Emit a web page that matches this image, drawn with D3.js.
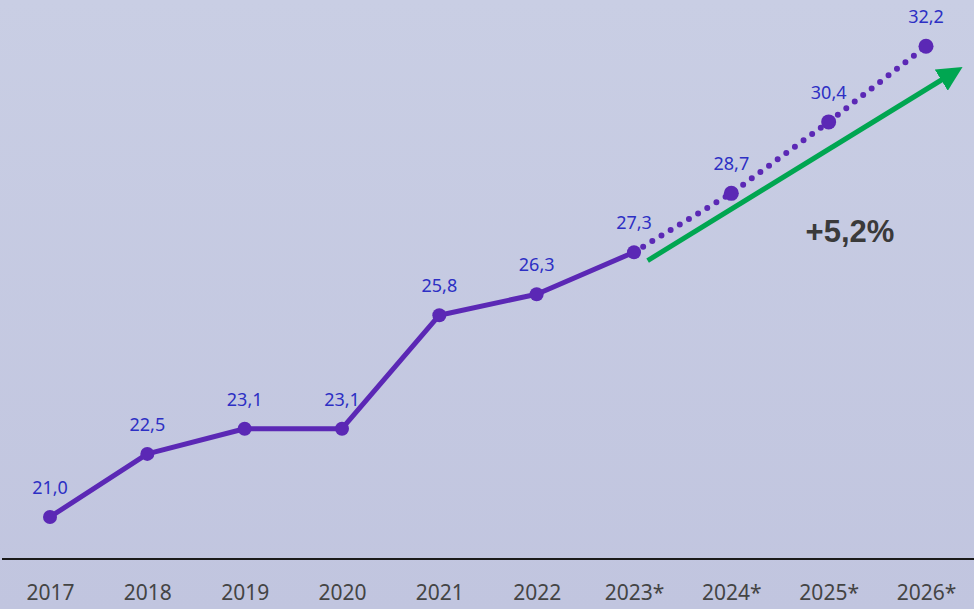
<!DOCTYPE html>
<html>
<head>
<meta charset="utf-8">
<script src="https://cdn.jsdelivr.net/npm/d3@7"></script>
<style>
  body { margin: 0; padding: 0; overflow: hidden; }
  svg { display: block; }
</style>
</head>
<body>
<div id="chart"></div>
<script>
// Chart data
var years = ["2017", "2018", "2019", "2020", "2021", "2022", "2023*", "2024*", "2025*", "2026*"];
var values = [21.0, 22.5, 23.1, 23.1, 25.8, 26.3, 27.3, 28.7, 30.4, 32.2];
var labels = ["21,0", "22,5", "23,1", "23,1", "25,8", "26,3", "27,3", "28,7", "30,4", "32,2"];
var actualCount = 7; // 2017..2023* drawn solid, rest dotted
var growthText = "+5,2%";

// Set width and height
var width = 974,
    height = 609;

var svg = d3.select("#chart")
            .append("svg")
              .attr("width", width)
              .attr("height", height);

// Background gradient
var grad = svg.append("defs")
              .append("linearGradient")
                .attr("id", "bg")
                .attr("x1", 0).attr("y1", 0)
                .attr("x2", 0).attr("y2", 1);
grad.append("stop").attr("offset", "0%").attr("stop-color", "#c9cee4");
grad.append("stop").attr("offset", "100%").attr("stop-color", "#c1c5df");

svg.append("rect")
    .attr("width", width)
    .attr("height", height)
    .attr("fill", "url(#bg)");

// Scales
var x = d3.scalePoint()
          .domain(years)
          .range([50, 926]);

var y = d3.scaleLinear()
          .domain([20, 33.3])
          .range([559, 0]);

var data = years.map(function(d, i) { return {year: d, value: values[i], label: labels[i]}; });

// Baseline axis
var axis = svg.append("g")
              .attr("transform", "translate(0,559)")
              .call(d3.axisBottom(x).tickSize(0).tickPadding(26));
axis.select(".domain").remove();
axis.append("line")
    .attr("x1", 2)
    .attr("x2", width)
    .attr("stroke", "#1a1a1a")
    .attr("stroke-width", 2);
axis.selectAll("text")
    .attr("fill", "#444")
    .style("font-family", "'Noto Sans', sans-serif")
    .style("font-size", "21px");

// Growth arrow (in data units)
var arrowFrom = {year: "2023*", offset: 0.14, value: 27.1};
var arrowTo = {year: "2026*", offset: 0.37, value: 31.7};
var stepX = x.step();

svg.select("defs").append("marker")
    .attr("id", "arrowhead")
    .attr("viewBox", "0 0 10 10")
    .attr("refX", 6)
    .attr("refY", 5)
    .attr("markerWidth", 5)
    .attr("markerHeight", 5)
    .attr("markerUnits", "strokeWidth")
    .attr("orient", "auto")
  .append("path")
    .attr("d", "M0,0 L10,5 L0,10 Z")
    .attr("fill", "#00a651");

svg.append("line")
    .attr("x1", x(arrowFrom.year) + arrowFrom.offset * stepX)
    .attr("y1", y(arrowFrom.value))
    .attr("x2", x(arrowTo.year) + arrowTo.offset * stepX - 8)
    .attr("y2", y(arrowTo.value) + 5)
    .attr("stroke", "#00a651")
    .attr("stroke-width", 5)
    .attr("marker-end", "url(#arrowhead)");

svg.append("text")
    .attr("x", 850)
    .attr("y", 242)
    .attr("text-anchor", "middle")
    .attr("fill", "#3a3a3a")
    .style("font-family", "'Liberation Sans', Arial, sans-serif")
    .style("font-weight", "bold")
    .style("font-size", "31px")
    .text(growthText);

// Lines
var line = d3.line()
             .x(function(d) { return x(d.year); })
             .y(function(d) { return y(d.value); });

var lineColor = "#5b28b5";

svg.append("path")
    .datum(data.slice(0, actualCount))
    .attr("d", line)
    .attr("fill", "none")
    .attr("stroke", lineColor)
    .attr("stroke-width", 5)
    .attr("stroke-linejoin", "round");

svg.append("path")
    .datum(data.slice(actualCount - 1))
    .attr("d", line)
    .attr("fill", "none")
    .attr("stroke", lineColor)
    .attr("stroke-width", 6)
    .attr("stroke-linecap", "round")
    .attr("stroke-dasharray", "0 10.7");

// Dots
svg.selectAll(".dot")
    .data(data)
    .enter()
    .append("circle")
      .attr("class", "dot")
      .attr("cx", function(d) { return x(d.year); })
      .attr("cy", function(d) { return y(d.value); })
      .attr("r", function(d, i) { return i < actualCount ? 7 : 7.5; })
      .attr("fill", lineColor);

// Value labels
svg.selectAll(".lbl")
    .data(data)
    .enter()
    .append("text")
      .attr("class", "lbl")
      .attr("x", function(d) { return x(d.year); })
      .attr("y", function(d) { return y(d.value) - 23; })
      .attr("text-anchor", "middle")
      .attr("fill", "#2d2fc4")
      .style("font-family", "'Noto Sans', sans-serif")
      .style("font-size", "18px")
      .text(function(d) { return d.label; });
</script>
</body>
</html>
